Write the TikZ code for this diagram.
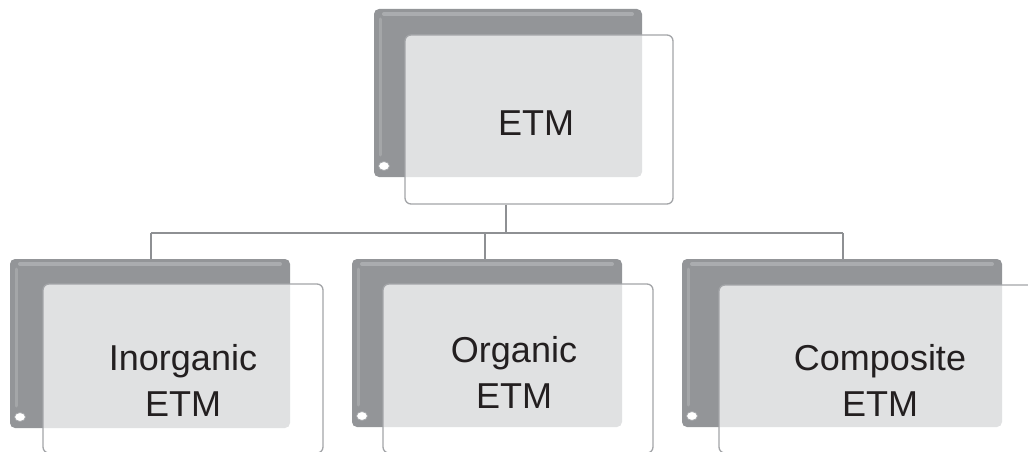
\documentclass[tikz,border=0pt]{standalone}
\usepackage{fontspec}
\usetikzlibrary{shapes.geometric}
\setmainfont{Liberation Sans}
\definecolor{darkgr}{HTML}{939598}
\definecolor{hilite}{HTML}{B5B7B9}
\definecolor{rimgr}{HTML}{A3A5A8}
\definecolor{linegr}{HTML}{8E9093}
\definecolor{txt}{HTML}{231F20}
\begin{document}
\begin{tikzpicture}[x=1pt,y=-1pt,
  darkbox/.style={fill=darkgr, draw=none, rounded corners=5pt, inner sep=0pt},
  frontbox/.style={fill=white, fill opacity=0.72, draw=rimgr, line width=1.3pt, rounded corners=6pt, inner sep=0pt},
  lbl/.style={text=txt, font=\fontsize{36}{46}\selectfont, align=center, inner sep=0pt},
  conn/.style={draw=linegr, line width=1.8pt},
  dot/.style={ellipse, fill=white, draw=rimgr, line width=0.8pt, minimum width=11pt, minimum height=9pt, inner sep=0pt}
]
\useasboundingbox (0,0) rectangle (1028,452);
% --- boxes: dark back panels ---
\newcommand{\darkpanel}[5]{% name, x1, y1, x2, y2
  \node[darkbox, minimum width={#4-#2}, minimum height={#5-#3}] (#1) at ({(#2+#4)/2},{(#3+#5)/2}) {};
  \draw[hilite, line width=4pt, line cap=round, opacity=0.7] ({#2+10},{#3+5}) -- ({#4-10},{#3+5});
  \draw[hilite, line width=3pt, line cap=round, opacity=0.5] ({#2+6},{#3+10}) -- ({#2+6},{#5-22});
  \node[dot] (#1c) at ({#2+10},{#5-11}) {};
}
\newcommand{\frontpanel}[5]{%
  \node[frontbox, minimum width={#4-#2}, minimum height={#5-#3}] (#1) at ({(#2+#4)/2},{(#3+#5)/2}) {};
}
\darkpanel{d0}{374}{9}{642}{177}
\frontpanel{f0}{405}{35}{673}{204}
\darkpanel{da}{10}{259}{290}{428}
\frontpanel{fa}{43}{284}{323}{453}
\darkpanel{db}{352}{259}{622}{427}
\frontpanel{fb}{383}{284}{653}{453}
\darkpanel{dc}{682}{259}{1002}{427}
\frontpanel{fc}{719}{285}{1040}{453}
% --- labels ---
\node[lbl, anchor=base] (t0) at (536,135) {ETM};
\node[lbl] (ta) at (183,380) {Inorganic\\ETM};
\node[lbl] (tb) at (514,372) {Organic\\ETM};
\node[lbl] (tc) at (880,380) {Composite\\ETM};
% --- connectors ---
\coordinate (j0) at (506,233);
\coordinate (ja) at (151,233);
\coordinate (jb) at (485,233);
\coordinate (jc) at (843,233);
\draw[conn] (f0.south -| j0) -- (j0);
\draw[conn] (ja) -- (jc);
\draw[conn] (ja) -- (ja |- da.north);
\draw[conn] (jb) -- (jb |- db.north);
\draw[conn] (jc) -- (jc |- dc.north);
\end{tikzpicture}
\end{document}
